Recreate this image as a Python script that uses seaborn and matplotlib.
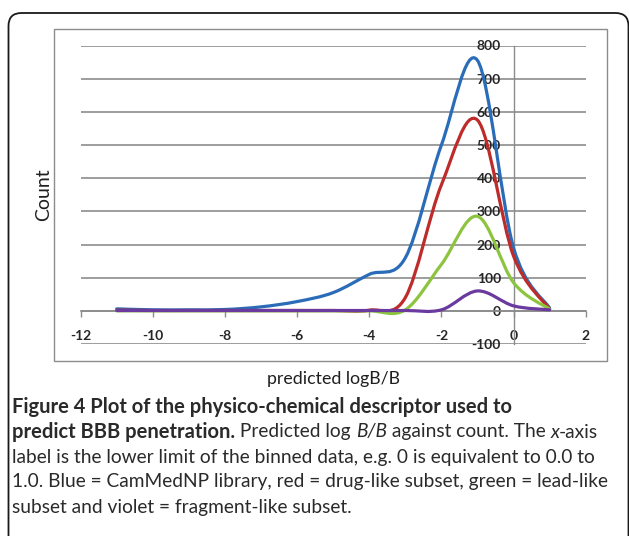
import numpy as np
import pandas as pd
import matplotlib
matplotlib.use("Agg")
import matplotlib.pyplot as plt
from matplotlib.path import Path
from matplotlib.patches import PathPatch, FancyBboxPatch, Rectangle
import seaborn as sns

# ---------------- data ----------------
x_bins = [-11, -10, -9, -8, -7, -6, -5, -4, -3, -2, -1, 0, 1]
cammednp = [6, 3, 3, 4, 12, 28, 55, 110, 160, 500, 755, 190, 8]
drug_like = [2, 1, 1, 1, 1, 1, 1, 2, 40, 380, 575, 165, 5]
lead_like = [0, 0, 0, 0, 0, 0, 0, 0, 3, 140, 285, 85, 5]
fragment_like = [1, 1, 1, 1, 1, 1, 1, 1, 1, 3, 60, 15, 3]
series_names = ["CamMedNP library", "drug-like subset", "lead-like subset", "fragment-like subset"]
series_colors = ["#2b6cb8", "#be2b2b", "#8cc43f", "#6b3a9e"]

x_ticks = [-12, -10, -8, -6, -4, -2, 0, 2]
x_tick_labels = ["-12", "-10", "-8", "-6", "-4", "-2", "0", "2"]
y_ticks = [-100, 0, 100, 200, 300, 400, 500, 600, 700, 800]
y_tick_labels = ["-100", "0", "100", "200", "300", "400", "500", "600", "700", "800"]

x_label = "predicted logB/B"
y_label = "Count"

caption_lines = [
    [("Figure 4 Plot of the physico-chemical descriptor used to", "bold", "normal")],
    [("predict BBB penetration.", "bold", "normal"), (" Predicted log ", "normal", "normal"),
     ("B/B", "normal", "italic"), (" against count. The ", "normal", "normal"),
     ("x", "normal", "italic"), ("-axis", "normal", "normal")],
    [("label is the lower limit of the binned data, e.g. 0 is equivalent to 0.0 to", "normal", "normal")],
    [("1.0. Blue = CamMedNP library, red = drug-like subset, green = lead-like", "normal", "normal")],
    [("subset and violet = fragment-like subset.", "normal", "normal")],
]

df = pd.DataFrame({"x": x_bins, series_names[0]: cammednp, series_names[1]: drug_like,
                   series_names[2]: lead_like, series_names[3]: fragment_like})
long_df = df.melt(id_vars="x", var_name="series", value_name="count")

# ---------------- style ----------------
sns.set_theme(style="white")
plt.rcParams["font.family"] = ["Lato", "DejaVu Sans"]
plt.rcParams["axes.unicode_minus"] = False
palette = dict(zip(series_names, sns.color_palette(series_colors)))

W, H = 629, 536
fig = plt.figure(figsize=(W / 100, H / 100), dpi=100)
fig.patch.set_facecolor("white")

# outer rounded frame (figure box)
outer = FancyBboxPatch((0.085, -0.3), 6.285 - 0.085, 5.23 + 0.3,
                       boxstyle="round,pad=0,rounding_size=0.13",
                       transform=fig.dpi_scale_trans, fill=False,
                       edgecolor="#1a1a1a", lw=1.3, zorder=0)
fig.patches.append(outer)
# chart area frame
frame = Rectangle((0.54, (H - 361) / 100), (606.7 - 54) / 100, (361 - 29.3) / 100,
                  transform=fig.dpi_scale_trans, fill=False,
                  edgecolor="#8c8c8c", lw=1.0, zorder=0)
fig.patches.append(frame)

ax_l, ax_r, ax_t, ax_b = 80.7, 585.7, 45.5, 344.0
ax = fig.add_axes([ax_l / W, 1 - ax_b / H, (ax_r - ax_l) / W, (ax_b - ax_t) / H])
ax.set_facecolor("none")
ax.set_xlim(-12, 2)
ax.set_ylim(-100, 800)


def smooth_path(xs, ys):
    pts = list(zip(xs, ys))
    n = len(pts)
    verts = [pts[0]]
    codes = [Path.MOVETO]
    for i in range(n - 1):
        p0 = pts[i - 1] if i > 0 else pts[i]
        p1 = pts[i]
        p2 = pts[i + 1]
        p3 = pts[i + 2] if i + 2 < n else pts[i + 1]
        c1 = (p1[0] + (p2[0] - p0[0]) / 6, p1[1] + (p2[1] - p0[1]) / 6)
        c2 = (p2[0] - (p3[0] - p1[0]) / 6, p2[1] - (p3[1] - p1[1]) / 6)
        verts += [c1, c2, p2]
        codes += [Path.CURVE4] * 3
    return Path(verts, codes)


for k, name in enumerate(series_names):
    sub = long_df[long_df["series"] == name]
    path = smooth_path(sub["x"].tolist(), sub["count"].tolist())
    ax.add_patch(PathPatch(path, facecolor="none", edgecolor=palette[name], lw=2.3,
                           capstyle="round", joinstyle="round", zorder=3 + k))

# grid and axes
ax.set_yticks(y_ticks)
ax.set_yticklabels(y_tick_labels)
ax.set_xticks(x_ticks)
ax.set_xticklabels(x_tick_labels)
ax.grid(axis="y", color="#8c8c8c", lw=1.2)
ax.grid(axis="x", visible=False)
ax.set_axisbelow(True)
for s in ["top", "right"]:
    ax.spines[s].set_visible(False)
ax.spines["left"].set_position(("data", 0))
ax.spines["bottom"].set_position(("data", 0))
ax.spines["left"].set_color("#8c8c8c")
ax.spines["bottom"].set_color("#8c8c8c")
ax.spines["left"].set_linewidth(1.0)
ax.spines["bottom"].set_linewidth(1.2)
ax.tick_params(axis="y", length=0, pad=9, labelsize=10, labelcolor="#262626")
ax.tick_params(axis="x", direction="out", length=4, width=1.0, color="#8c8c8c",
               pad=9.5, labelsize=10, labelcolor="#262626", bottom=True)
for lab in ax.get_xticklabels() + ax.get_yticklabels():
    lab.set_fontweight("bold")

ax.set_ylabel(y_label, fontsize=14, color="#1f1f1f")
ax.yaxis.set_label_coords((52 - ax_l) / (ax_r - ax_l), 0.5)
ax.set_xlabel(x_label, fontsize=12.8, color="#1f1f1f")
ax.xaxis.set_label_coords(0.5, -(371 - ax_b) / (ax_b - ax_t))

# caption
renderer = fig.canvas.get_renderer()


def draw_line(segs, x0, y, size, bold_scale=1.0, measure_only=False):
    x = x0
    for txt, weight, style in segs:
        s = size * (bold_scale if weight == "bold" else 1.0)
        t = fig.text(x / W, 1 - y / H, txt, fontsize=s, fontweight=weight,
                     fontstyle=style, ha="left", va="center", color="#2a2a2a")
        x += t.get_window_extent(renderer).width
        if measure_only:
            t.remove()
    return x - x0


left_x = 12
ys = [407, 432, 457, 482, 507]
base = 10
w3 = draw_line(caption_lines[2], left_x, 0, base, measure_only=True)
w4 = draw_line(caption_lines[3], left_x, 0, base, measure_only=True)
cap_size = base * 0.5 * ((600 - left_x) / w3 + (604 - left_x) / w4)
bold_scale = 1.05
for segs, yy in zip(caption_lines, ys):
    draw_line(segs, left_x, yy, cap_size, bold_scale=bold_scale)

fig.savefig("out.png", dpi=100)
